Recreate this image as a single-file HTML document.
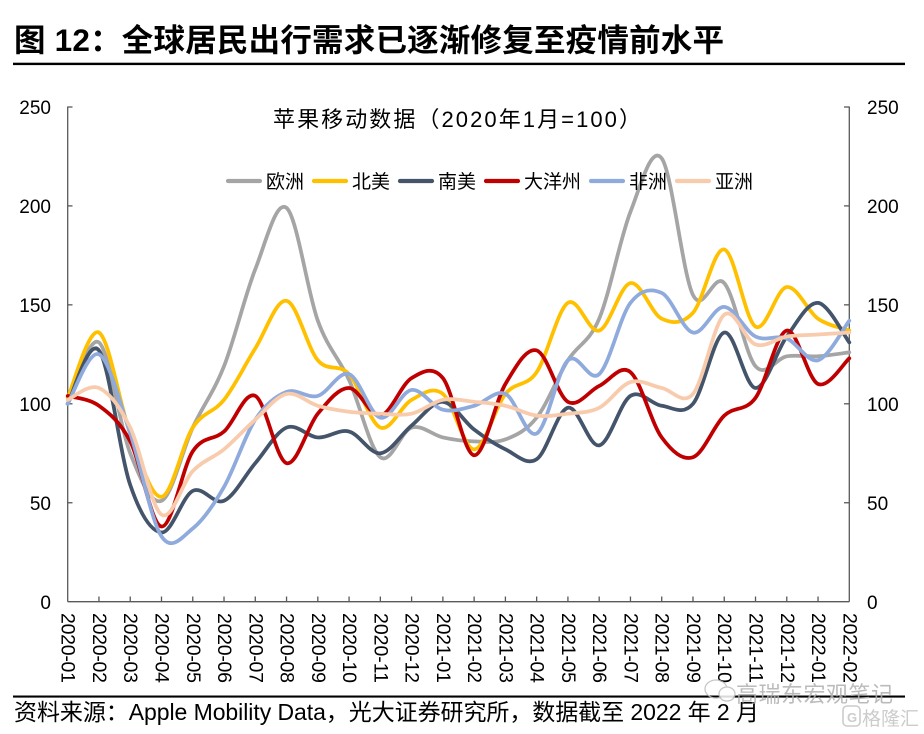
<!DOCTYPE html>
<html>
<head>
<meta charset="utf-8">
<style>
html,body{margin:0;padding:0;background:#fff;width:924px;height:734px;overflow:hidden}
svg{display:block}
text{font-family:"Liberation Sans","Noto Sans CJK SC",sans-serif;fill:#000}
</style>
</head>
<body>
<svg id="c" width="924" height="734" viewBox="0 0 924 734" xmlns="http://www.w3.org/2000/svg">
  <rect x="0" y="0" width="924" height="734" fill="#fff"/>
  <!-- Title -->
  <text x="14" y="51" font-size="31.5" font-weight="bold" textLength="710" lengthAdjust="spacing">图 12：全球居民出行需求已逐渐修复至疫情前水平</text>
  <rect x="13" y="62.7" width="892" height="2.4" fill="#000"/>

  <!-- Chart subtitle -->
  <text x="273" y="127" font-size="22" textLength="368" lengthAdjust="spacing">苹果移动数据（2020年1月=100）</text>

  <!-- Axes -->
  <g stroke="#595959" stroke-width="1.3" fill="none">
    <line x1="67.7" y1="106.5" x2="67.7" y2="601.7"/>
    <line x1="849.3" y1="106.5" x2="849.3" y2="601.7"/>
    <line x1="67.7" y1="601.7" x2="849.3" y2="601.7"/>
    <!-- left ticks -->
    <line x1="67.7" y1="107" x2="72.5" y2="107"/>
    <line x1="67.7" y1="205.9" x2="72.5" y2="205.9"/>
    <line x1="67.7" y1="304.85" x2="72.5" y2="304.85"/>
    <line x1="67.7" y1="403.8" x2="72.5" y2="403.8"/>
    <line x1="67.7" y1="502.75" x2="72.5" y2="502.75"/>
    <!-- right ticks -->
    <line x1="844" y1="107" x2="849.3" y2="107"/>
    <line x1="844" y1="205.9" x2="849.3" y2="205.9"/>
    <line x1="844" y1="304.85" x2="849.3" y2="304.85"/>
    <line x1="844" y1="403.8" x2="849.3" y2="403.8"/>
    <line x1="844" y1="502.75" x2="849.3" y2="502.75"/>
  </g>
  <g id="xticks" stroke="#595959" stroke-width="1.3"></g>

  <!-- Y labels -->
  <g font-size="19" text-anchor="end">
    <text x="51" y="114">250</text>
    <text x="51" y="213">200</text>
    <text x="51" y="312">150</text>
    <text x="51" y="411">100</text>
    <text x="51" y="510">50</text>
    <text x="51" y="609">0</text>
  </g>
  <g font-size="19">
    <text x="867" y="114">250</text>
    <text x="867" y="213">200</text>
    <text x="867" y="312">150</text>
    <text x="867" y="411">100</text>
    <text x="867" y="510">50</text>
    <text x="867" y="609">0</text>
  </g>

  <!-- X labels -->
  <g id="xlabels" font-size="19.5"></g>

  <!-- Series -->
  <g id="series" fill="none" stroke-width="3.75" stroke-linejoin="round" stroke-linecap="round"></g>

  <!-- Legend -->
  <g stroke-width="4.2" stroke-linecap="round">
    <line x1="228" y1="181" x2="260" y2="181" stroke="#A5A5A5"/>
    <line x1="314" y1="181" x2="346" y2="181" stroke="#FFC000"/>
    <line x1="400" y1="181" x2="432" y2="181" stroke="#44546A"/>
    <line x1="486" y1="181" x2="518" y2="181" stroke="#C00000"/>
    <line x1="591" y1="181" x2="623" y2="181" stroke="#8FAADC"/>
    <line x1="677" y1="181" x2="709" y2="181" stroke="#F8CBAD"/>
  </g>
  <g font-size="19">
    <text x="266" y="188">欧洲</text>
    <text x="352" y="188">北美</text>
    <text x="438" y="188">南美</text>
    <text x="524" y="188">大洋州</text>
    <text x="629" y="188">非洲</text>
    <text x="715" y="188">亚洲</text>
  </g>

  <!-- Source -->
  <rect x="13" y="695.5" width="892" height="2.1" fill="#000"/>
  <text x="14" y="720" font-size="23" textLength="745" lengthAdjust="spacing">资料来源：Apple Mobility Data，光大证券研究所，数据截至 2022 年 2 月</text>

  <!-- Watermarks -->
  <g opacity="0.85">
    <ellipse cx="716" cy="689" rx="11" ry="9" fill="none" stroke="#bdbdbd" stroke-width="1.3"/>
    <ellipse cx="727" cy="694" rx="8" ry="7" fill="#fff" stroke="#bdbdbd" stroke-width="1.3"/>
    <text x="736" y="702" font-size="22" textLength="157" lengthAdjust="spacing" style="fill:#b0b0b0">高瑞东宏观笔记</text>
    <rect x="843" y="706" width="17" height="20" rx="4" fill="none" stroke="#c4c4c4" stroke-width="1.6"/>
    <text x="847" y="722" font-size="13" font-weight="bold" style="fill:#c4c4c4">G</text>
    <text x="862" y="725" font-size="19" style="fill:#c4c4c4">格隆汇</text>
  </g>
</svg>
<script>
(function(){
  var NS="http://www.w3.org/2000/svg";
  var X0=67.7, DX=(849.3-67.7)/25, Y0=601.7, K=1.979;
  var labels=["2020-01","2020-02","2020-03","2020-04","2020-05","2020-06","2020-07","2020-08","2020-09","2020-10","2020-11","2020-12",
              "2021-01","2021-02","2021-03","2021-04","2021-05","2021-06","2021-07","2021-08","2021-09","2021-10","2021-11","2021-12",
              "2022-01","2022-02"];
  var xl=document.getElementById("xlabels"), xt=document.getElementById("xticks");
  for(var i=0;i<26;i++){
    var x=X0+DX*i;
    var t=document.createElementNS(NS,"text");
    t.setAttribute("transform","translate("+(x-6).toFixed(2)+",613) rotate(90)");
    t.setAttribute("textLength","70");
    t.setAttribute("lengthAdjust","spacing");
    t.textContent=labels[i];
    xl.appendChild(t);
    if(i>0 && i<25){
      var l=document.createElementNS(NS,"line");
      l.setAttribute("x1",x.toFixed(2));l.setAttribute("x2",x.toFixed(2));
      l.setAttribute("y1","596.5");l.setAttribute("y2","601.7");
      xt.appendChild(l);
    }
  }
  var series=[
    ["#A5A5A5",[100,131,75,51,88,119,168,199,142,112,73,88,83,81,82,93,122,143,197,224,155,161,119,124,124,126]],
    ["#FFC000",[103,136,85,53,88,102,128,152,122,115,88,102,105,77,105,116,151,137,161,143,146,178,139,159,143,137]],
    ["#44546A",[100,127,59,35,56,51,70,88,83,86,75,89,101,87,77,72,98,79,104,99,100,136,108,134,151,131]],
    ["#C00000",[104,99,81,38,76,86,104,70,95,108,94,113,113,74,110,127,101,109,116,83,73,94,103,137,110,123]],
    ["#8FAADC",[100,125,85,33,37,58,92,106,104,115,93,107,97,99,105,85,122,115,151,156,136,149,134,133,122,142]],
    ["#F8CBAD",[102,108,88,44,66,77,92,105,99,96,95,95,102,101,99,94,95,98,111,108,105,145,130,134,135,136]]
  ];
  var g=document.getElementById("series");
  series.forEach(function(s){
    var p=s[1].map(function(v,i){return [X0+DX*i, Y0-K*v];});
    var d="M"+p[0][0].toFixed(2)+","+p[0][1].toFixed(2);
    for(var i=0;i<p.length-1;i++){
      var p0=p[i-1]||p[i], p1=p[i], p2=p[i+1], p3=p[i+2]||p[i+1];
      var c1=[p1[0]+(p2[0]-p0[0])/6, p1[1]+(p2[1]-p0[1])/6];
      var c2=[p2[0]-(p3[0]-p1[0])/6, p2[1]-(p3[1]-p1[1])/6];
      d+=" C"+c1[0].toFixed(2)+","+c1[1].toFixed(2)+" "+c2[0].toFixed(2)+","+c2[1].toFixed(2)+" "+p2[0].toFixed(2)+","+p2[1].toFixed(2);
    }
    var path=document.createElementNS(NS,"path");
    path.setAttribute("d",d);
    path.setAttribute("stroke",s[0]);
    g.appendChild(path);
  });
})();
</script>
</body>
</html>
